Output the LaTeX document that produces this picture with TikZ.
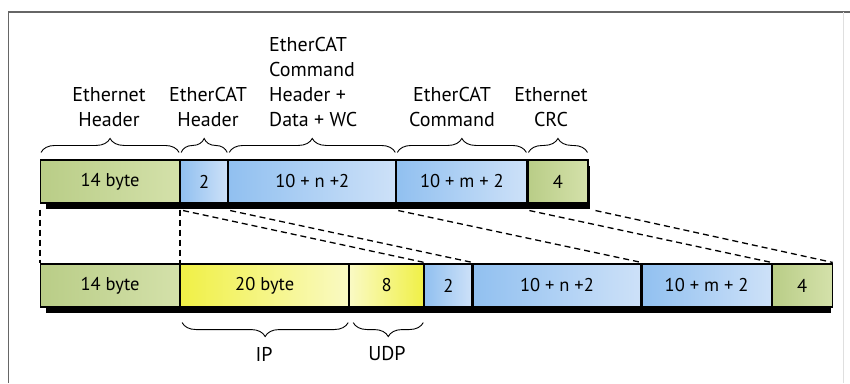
\documentclass[tikz,border=0pt]{standalone}
\usepackage{fontspec}
\setmainfont{PT Sans}
\usetikzlibrary{decorations.pathreplacing,calc}
\definecolor{grnA}{RGB}{185,205,135}
\definecolor{grnB}{RGB}{212,225,170}
\definecolor{bluA}{RGB}{145,192,240}
\definecolor{bluB}{RGB}{205,225,248}
\definecolor{yelA}{RGB}{240,240,70}
\definecolor{yelB}{RGB}{250,250,195}
\begin{document}
\begin{tikzpicture}[x=1pt,y=-1pt,
  cell/.style={draw=black,line width=1.1pt,anchor=west,minimum height=43pt,inner sep=0pt,
    font=\fontsize{18.5}{20}\selectfont},
  gcell/.style={cell,left color=grnA,right color=grnB},
  bcell/.style={cell,left color=bluA,right color=bluB},
  ycell/.style={cell,left color=yelA,right color=yelB},
  ycellr/.style={cell,left color=yelB,right color=yelA},
  brc/.style={decorate,decoration={brace,amplitude=14pt},line width=0.9pt},
  brcm/.style={decorate,decoration={brace,amplitude=14pt,mirror},line width=0.9pt},
  lbl/.style={align=center,inner sep=0pt,font=\fontsize{20}{25}\selectfont},
  dsh/.style={dash pattern=on 6pt off 4pt,line width=1.3pt}]
\useasboundingbox (0,0) rectangle (850,383);
\fill[white] (0,0) rectangle (850,383);
% frame
\draw[gray!80!black,line width=1.6pt] (8.5,383) -- (8.5,12) -- (850,12);
\draw[gray!25,line width=0.8pt] (843,12) -- (843,383);
% shadows
\fill[black] (46,166) rectangle (590,209);
\fill[black] (46,270) rectangle (831,313);
% top row
\node[gcell,minimum width=139pt] (t1) at (40,181.5) {14 byte};
\node[bcell,minimum width=47pt] (t2) at (t1.east) {2};
\node[bcell,minimum width=167pt] (t3) at (t2.east) {10 + n +2};
\node[bcell,minimum width=130pt] (t4) at (t3.east) {10 + m + 2};
\node[gcell,minimum width=60pt] (t5) at (t4.east) {4};
% bottom row
\node[gcell,minimum width=139pt] (b1) at (40,285.5) {14 byte};
\node[ycell,minimum width=168pt] (b2) at (b1.east) {20 byte};
\node[ycellr,minimum width=74pt] (b3) at (b2.east) {8};
\node[bcell,minimum width=47pt] (b4) at (b3.east) {2};
\node[bcell,minimum width=168pt] (b5) at (b4.east) {10 + n +2};
\node[bcell,minimum width=129pt] (b6) at (b5.east) {10 + m + 2};
\node[gcell,minimum width=60pt] (b7) at (b6.east) {4};
% top braces
\draw[brc] ([xshift=1pt,yshift=7pt]t1.north west) -- ([xshift=-1pt,yshift=7pt]t1.north east);
\draw[brc] ([xshift=1pt,yshift=7pt]t2.north west) -- ([xshift=-1pt,yshift=7pt]t2.north east);
\draw[brc] ([xshift=1pt,yshift=7pt]t3.north west) -- ([xshift=-1pt,yshift=7pt]t3.north east);
\draw[brc] ([xshift=1pt,yshift=7pt]t4.north west) -- ([xshift=-1pt,yshift=7pt]t4.north east);
\draw[brc] ([xshift=1pt,yshift=7pt]t5.north west) -- ([xshift=-1pt,yshift=7pt]t5.north east);
% bottom braces
\draw[brcm] ([xshift=2pt,yshift=-15pt]b2.south west) -- ([xshift=-1pt,yshift=-15pt]b2.south east);
\draw[brcm] ([xshift=4pt,yshift=-15pt]b3.south west) -- ([xshift=-1pt,yshift=-15pt]b3.south east);
% labels
\node[lbl] (l1) at (109,107) {Ethernet\\Header};
\node[lbl] (l2) at (208,107) {EtherCAT\\Header};
\node[lbl,align=left,anchor=west] (l3) at (269,82) {EtherCAT\\Command\\Header +\\Data + WC};
\node[lbl] (l4) at (452,107) {EtherCAT\\Command};
\node[lbl] (l5) at (551,107) {Ethernet\\CRC};
\node[lbl] (l6) at (264,354) {IP};
\node[lbl] (l7) at (387,354) {UDP};
% dashed connectors
\draw[dsh] ([yshift=-6pt]t1.south west) -- (b1.north west);
\draw[dsh] ([yshift=-6pt]t1.south east) -- (b1.north east);
\draw[dsh] ([xshift=3pt,yshift=-7pt]t2.south west) -- ([yshift=1pt]b4.north west);
\draw[dsh] ([xshift=2pt,yshift=-7pt]t3.south west) -- ([yshift=1pt]b5.north west);
\draw[dsh] ([xshift=2pt,yshift=-7pt]t4.south west) -- ([yshift=1pt]b6.north west);
\draw[dsh] ([xshift=2pt,yshift=-7pt]t5.south west) -- ([yshift=1pt]b7.north west);
\draw[dsh] ([xshift=7pt,yshift=-7pt]t5.south east) -- ([yshift=1pt]b7.north east);
\end{tikzpicture}
\end{document}
